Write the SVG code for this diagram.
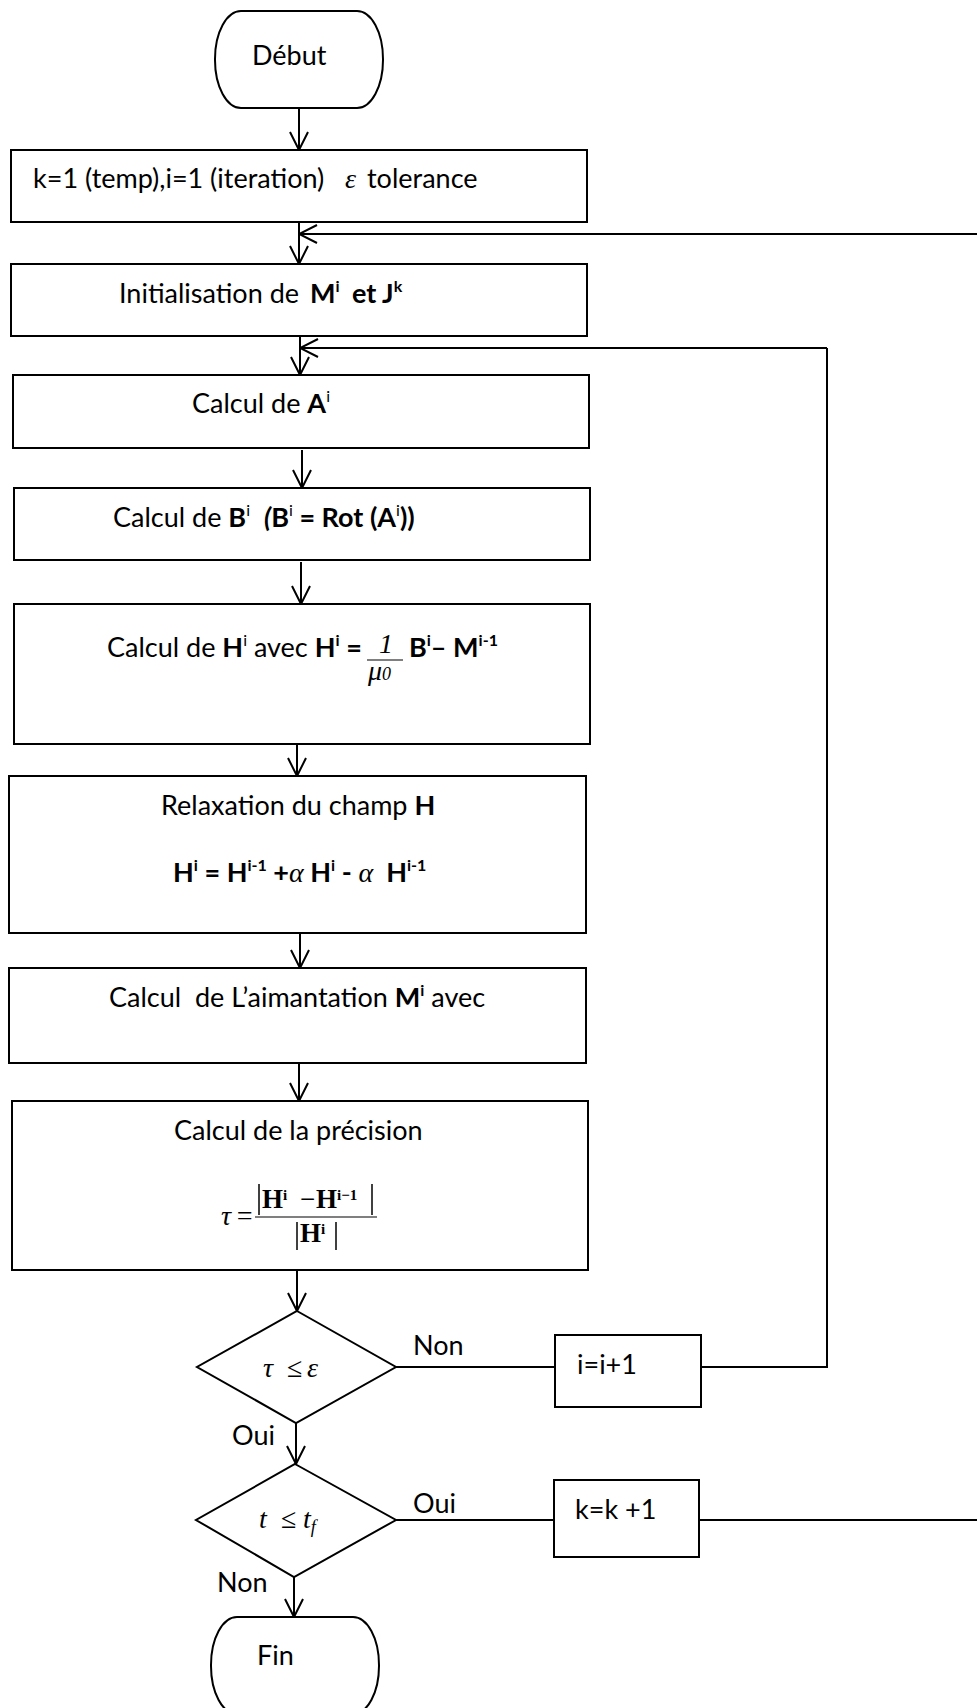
<svg xmlns="http://www.w3.org/2000/svg" width="977" height="1708" viewBox="0 0 977 1708">
<style>
.box{fill:#fff;stroke:#000;stroke-width:2}
.ln{fill:none;stroke:#000;stroke-width:2}
.t{font-family:Lato,"Liberation Sans",sans-serif;font-size:27px;fill:#000}
.b{font-weight:bold}
.sup{font-size:16px}
.m{font-family:"Liberation Serif",serif;font-style:italic;font-size:28px}
.mb{font-family:"Liberation Serif",serif;font-weight:bold;font-size:27px}
</style>
<defs>
<marker id="ah" markerUnits="userSpaceOnUse" viewBox="0 0 20 20" refX="19" refY="10" markerWidth="20" markerHeight="20" orient="auto">
<path d="M1,1 L19,10 L1,19" fill="none" stroke="#000" stroke-width="2"/>
</marker>
</defs>
<rect width="977" height="1708" fill="#fff"/>
<g id="connectors">
<line class="ln" x1="299" y1="108" x2="299" y2="150" marker-end="url(#ah)"/>
<line class="ln" x1="299" y1="222" x2="299" y2="264" marker-end="url(#ah)"/>
<line class="ln" x1="977" y1="234" x2="299" y2="234" marker-end="url(#ah)" stroke-width="2.5"/>
<line class="ln" x1="300" y1="336" x2="300" y2="375" marker-end="url(#ah)"/>
<polyline class="ln" points="701,1367 827,1367 827,348"/>
<line class="ln" x1="827" y1="348" x2="300" y2="348" marker-end="url(#ah)" stroke-width="2.5"/>
<line class="ln" x1="302" y1="450" x2="302" y2="488" marker-end="url(#ah)"/>
<line class="ln" x1="301" y1="562" x2="301" y2="604" marker-end="url(#ah)"/>
<line class="ln" x1="297" y1="744" x2="297" y2="776" marker-end="url(#ah)"/>
<line class="ln" x1="300" y1="933" x2="300" y2="968" marker-end="url(#ah)"/>
<line class="ln" x1="299" y1="1063" x2="299" y2="1101" marker-end="url(#ah)"/>
<line class="ln" x1="297" y1="1270" x2="297" y2="1311" marker-end="url(#ah)"/>
<line class="ln" x1="396" y1="1367" x2="555" y2="1367"/>
<line class="ln" x1="296" y1="1423" x2="296" y2="1464" marker-end="url(#ah)"/>
<line class="ln" x1="396" y1="1520" x2="554" y2="1520"/>
<line class="ln" x1="699" y1="1520" x2="977" y2="1520" stroke-width="2.5"/>
<line class="ln" x1="294" y1="1577" x2="294" y2="1617" marker-end="url(#ah)"/>
<text class="t" x="413" y="1355">Non</text>
<text class="t" x="232" y="1445">Oui</text>
<text class="t" x="413" y="1513">Oui</text>
<text class="t" x="217" y="1592">Non</text>
</g>
<g id="debut">
<rect class="box" x="215" y="11" width="168" height="97" rx="26" ry="48"/>
<text class="t" x="252" y="65">Début</text>
</g>
<g id="init-params">
<rect class="box" x="11" y="150" width="576" height="72"/>
<text class="t" x="33" y="188">k=1 (temp),i=1 (iteration)<tspan class="m" x="345">ε</tspan><tspan x="367">tolerance</tspan></text>
</g>
<g id="init-MJ">
<rect class="box" x="11" y="264" width="576" height="72"/>
<text class="t" x="119" y="303">Initialisation de <tspan class="b" x="310">M</tspan><tspan class="sup b" dy="-11">i</tspan><tspan class="b" x="352" dy="11">et J</tspan><tspan class="sup b" dy="-11">k</tspan></text>
</g>
<g id="calc-A">
<rect class="box" x="13" y="375" width="576" height="73"/>
<text class="t" x="192" y="413">Calcul de <tspan class="b">A</tspan><tspan class="sup" dy="-11">i</tspan></text>
</g>
<g id="calc-B">
<rect class="box" x="14" y="488" width="576" height="72"/>
<text class="t" x="113" y="527">Calcul de <tspan class="b">B</tspan><tspan class="sup" dy="-11">i</tspan><tspan class="b" font-style="italic" x="264" dy="11">(</tspan><tspan class="b">B</tspan><tspan class="sup" dy="-11">i</tspan><tspan class="b" dy="11"> = Rot (A</tspan><tspan class="sup" dy="-11">i</tspan><tspan class="b" dy="11">))</tspan></text>
</g>
<g id="calc-H">
<rect class="box" x="14" y="604" width="576" height="140"/>
<text class="t" x="107" y="657">Calcul de <tspan class="b">H</tspan><tspan class="sup" dy="-11">i</tspan><tspan dy="11"> avec </tspan><tspan class="b">H</tspan><tspan class="sup b" dy="-11">i</tspan><tspan class="b" dy="11"> =</tspan></text>
<text class="m" x="379" y="653" font-size="34">1</text>
<line x1="367" y1="660" x2="403" y2="660" stroke="#000" stroke-width="1.2"/>
<text class="m" x="368" y="680" font-size="30">μ<tspan font-size="18">0</tspan></text>
<text class="t b" x="409" y="657">B<tspan class="sup" dy="-11">i</tspan><tspan dy="11">– M</tspan><tspan class="sup" dy="-11">i-1</tspan></text>
</g>
<g id="relax">
<rect class="box" x="9" y="776" width="577" height="157"/>
<text class="t" x="161" y="815">Relaxation du champ <tspan class="b">H</tspan></text>
<text class="t b" x="173" y="882">H<tspan class="sup" dy="-11">i</tspan><tspan dy="11"> = H</tspan><tspan class="sup" dy="-11">i-1</tspan><tspan dy="11"> +</tspan><tspan class="m" font-weight="normal">α</tspan><tspan> H</tspan><tspan class="sup" dy="-11">i</tspan><tspan dy="11"> - </tspan><tspan class="m" font-weight="normal">α</tspan><tspan xml:space="preserve">  H</tspan><tspan class="sup" dy="-11">i-1</tspan></text>
</g>
<g id="aimant">
<rect class="box" x="9" y="968" width="577" height="95"/>
<text class="t" x="109" y="1007" xml:space="preserve">Calcul  de L’aimantation <tspan class="b">M</tspan><tspan class="sup b" dy="-11">i</tspan><tspan dy="11"> avec</tspan></text>
</g>
<g id="precision">
<rect class="box" x="12" y="1101" width="576" height="169"/>
<text class="t" x="174" y="1140">Calcul de la précision</text>
<text class="m" x="221" y="1225">τ</text>
<text class="m" x="235" y="1225" font-style="normal">=</text>
<line x1="255" y1="1217" x2="377" y2="1217" stroke="#000" stroke-width="1.2"/>
<line x1="259" y1="1184" x2="259" y2="1215" stroke="#000" stroke-width="1.5"/>
<line x1="372" y1="1184" x2="372" y2="1215" stroke="#000" stroke-width="1.5"/>
<text class="mb" x="262" y="1208">H<tspan font-size="15" dy="-8">i</tspan><tspan font-weight="normal" x="300" dy="8">−</tspan><tspan x="316">H</tspan><tspan font-size="15" dy="-8">i−1</tspan></text>
<line x1="297" y1="1222" x2="297" y2="1250" stroke="#000" stroke-width="1.5"/>
<line x1="336" y1="1222" x2="336" y2="1250" stroke="#000" stroke-width="1.5"/>
<text class="mb" x="300" y="1242">H<tspan font-size="15" dy="-8">i</tspan></text>
</g>
<g id="test-tau">
<polygon class="box" points="297,1311 396,1367 296,1423 197,1367"/>
<text class="m" x="263" y="1377" font-size="30">τ<tspan x="287" font-style="normal">≤</tspan><tspan x="307">ε</tspan></text>
</g>
<g id="inc-i">
<rect class="box" x="555" y="1335" width="146" height="72"/>
<text class="t" x="577" y="1374">i=i+1</text>
</g>
<g id="test-t">
<polygon class="box" points="295,1464 396,1520 294,1577 196,1520"/>
<text class="m" x="259" y="1528" font-size="30">t<tspan x="281" font-style="normal">≤</tspan><tspan x="303">t</tspan><tspan font-size="18" dy="5">f</tspan></text>
</g>
<g id="inc-k">
<rect class="box" x="554" y="1480" width="145" height="77"/>
<text class="t" x="575" y="1519">k=k +1</text>
</g>
<g id="fin">
<rect class="box" x="211" y="1617" width="168" height="97" rx="26" ry="48"/>
<text class="t" x="257" y="1665">Fin</text>
</g>
</svg>
